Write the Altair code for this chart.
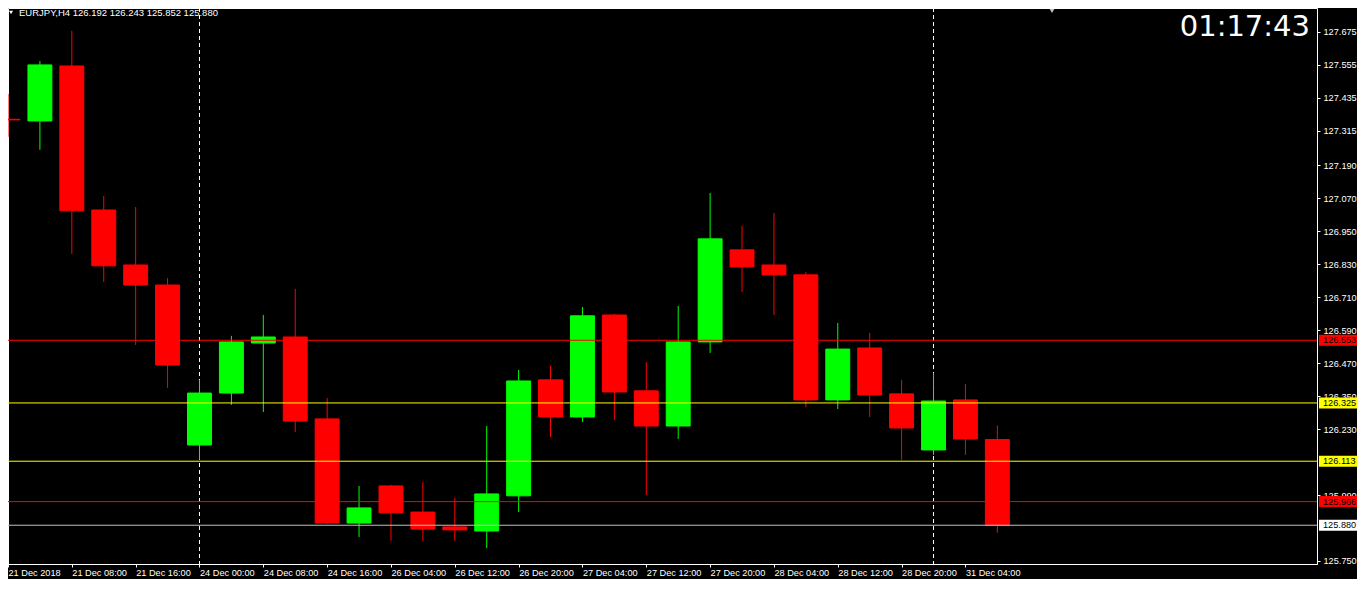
import altair as alt
import pandas as pd

# ---- data (EURJPY, H4) ----
opens = [127.357, 127.351, 127.551, 127.027, 126.827, 126.754, 126.172, 126.361,
         126.543, 126.565, 126.267, 125.888, 126.023, 125.928, 125.874, 125.859,
         125.987, 126.409, 126.274, 126.645, 126.369, 126.241, 126.547, 126.882,
         126.827, 126.791, 126.336, 126.525, 126.358, 126.154, 126.336, 126.192]
highs = [127.449, 127.569, 127.679, 127.078, 127.038, 126.780, 126.409, 126.569,
         126.645, 126.740, 126.343, 126.023, 126.027, 126.037, 125.979, 126.241,
         126.445, 126.460, 126.674, 126.649, 126.474, 126.678, 127.089, 126.969,
         127.016, 126.802, 126.616, 126.580, 126.409, 126.434, 126.394, 126.243]
lows = [127.293, 127.246, 126.867, 126.765, 126.536, 126.380, 126.118, 126.318,
        126.292, 126.219, 125.885, 125.837, 125.823, 125.823, 125.823, 125.797,
        125.928, 126.201, 126.256, 126.263, 125.990, 126.194, 126.507, 126.729,
        126.645, 126.310, 126.303, 126.274, 126.118, 126.136, 126.136, 125.852]
closes = [127.355, 127.555, 127.024, 126.824, 126.754, 126.463, 126.361, 126.547,
          126.565, 126.259, 125.888, 125.943, 125.925, 125.866, 125.863, 125.994,
          126.405, 126.274, 126.642, 126.365, 126.241, 126.547, 126.922, 126.820,
          126.791, 126.336, 126.521, 126.354, 126.234, 126.332, 126.194, 125.880]

time_labels = ["21 Dec 2018", "21 Dec 08:00", "21 Dec 16:00", "24 Dec 00:00",
               "24 Dec 08:00", "24 Dec 16:00", "26 Dec 04:00", "26 Dec 12:00",
               "26 Dec 20:00", "27 Dec 04:00", "27 Dec 12:00", "27 Dec 20:00",
               "28 Dec 04:00", "28 Dec 12:00", "28 Dec 20:00", "31 Dec 04:00"]
label_positions = [1, 3, 5, 7, 9, 11, 13, 15, 17, 19, 21, 23, 25, 27, 29, 31]

# 126.110 and 125.870 are hidden behind the level boxes in the reference
price_ticks = [127.675, 127.555, 127.435, 127.315, 127.190, 127.070, 126.950,
               126.830, 126.710, 126.590, 126.470, 126.350, 126.230,
               125.990, 125.750]

levels = [126.553, 126.325, 126.113, 125.966, 125.880]
level_line_colors = ["#FF0000", "#FFFF00", "#FFFF00", "#FF0000", "#C0C0C0"]
level_box_colors = ["#FF0000", "#FFFF00", "#FFFF00", "#FF0000", "#FFFFFF"]

separators = [7, 30]

header_text = ["EURJPY,H4  126.192 126.243 125.852 125.880"]
clock_text = ["01:17:43"]

W, H = 1309, 556
FONT = "Liberation Sans"
FS = 9.2

df = pd.DataFrame({"i": list(range(1, len(opens) + 1)), "open": opens,
                   "high": highs, "low": lows, "close": closes})
lv = pd.DataFrame({"level": levels, "lc": level_line_colors, "bc": level_box_colors})
sep = pd.DataFrame({"i": separators})

xscale = alt.Scale(domain=[1, 42.016], nice=False, zero=False)
yscale = alt.Scale(domain=[125.739, 127.762], nice=False, zero=False)

label_array = "[" + ",".join("'" + t + "'" for t in time_labels) + "]"
xaxis = alt.Axis(values=label_positions, labelExpr=label_array + "[(datum.value-1)/2]",
                 labelAlign="left", labelBaseline="top", labelPadding=1, tickSize=3,
                 labelOverlap=False, labelFlush=False, labelBound=False, grid=False,
                 title=None, zindex=0)
yaxis = alt.Axis(values=price_ticks, format=".3f", orient="right", tickSize=3,
                 labelPadding=3, grid=False, title=None, labelOverlap=False,
                 labelFlush=False, labelBound=False, zindex=0)

base = alt.Chart(df).transform_calculate(
    col="datum.close >= datum.open ? '#00FF00' : '#FF0000'",
    x1="datum.i - 0.375",
    x2="datum.i + 0.375",
)

seps = alt.Chart(sep).mark_rule(color="white", strokeWidth=1, strokeDash=[4, 3]).encode(
    x=alt.X("i:Q", scale=xscale, axis=xaxis)
)

wicks = base.mark_rule(strokeWidth=1, clip=True).encode(
    x=alt.X("i:Q", scale=xscale, axis=xaxis),
    y=alt.Y("low:Q", scale=yscale, axis=yaxis),
    y2="high:Q",
    color=alt.Color("col:N", scale=None),
)

bodies = base.mark_rect(strokeWidth=1, clip=True).encode(
    x=alt.X("x1:Q", scale=xscale, axis=xaxis),
    x2="x2:Q",
    y=alt.Y("open:Q", scale=yscale, axis=yaxis),
    y2="close:Q",
    color=alt.Color("col:N", scale=None),
    stroke=alt.Stroke("col:N", scale=None),
)

hlines = alt.Chart(lv).mark_rule(strokeWidth=1).encode(
    y=alt.Y("level:Q", scale=yscale, axis=yaxis),
    color=alt.Color("lc:N", scale=None),
)

boxes = alt.Chart(lv).mark_point(
    shape="M-1,-0.29L1,-0.29L1,0.29L-1,0.29Z", filled=True, size=1444, opacity=1
).encode(
    x=alt.value(W + 21),
    y=alt.Y("level:Q", scale=yscale, axis=yaxis),
    fill=alt.Fill("bc:N", scale=None),
)

box_text = alt.Chart(lv).mark_text(
    align="left", baseline="middle", font=FONT, fontSize=FS, color="black"
).encode(
    x=alt.value(W + 6),
    y=alt.Y("level:Q", scale=yscale, axis=yaxis),
    text=alt.Text("level:Q", format=".3f"),
)

header = alt.Chart(pd.DataFrame({"t": header_text})).mark_text(
    align="left", baseline="middle", font=FONT, fontSize=9.5, color="white"
).encode(x=alt.value(11), y=alt.value(5), text="t:N")

hdr_tri = alt.Chart(pd.DataFrame({"t": header_text})).mark_point(
    shape="triangle-down", filled=True, size=16, color="white", opacity=1
).encode(x=alt.value(3), y=alt.value(4.5))

clock = alt.Chart(pd.DataFrame({"t": clock_text})).mark_text(
    align="right", baseline="alphabetic", font="DejaVu Sans", fontSize=29, color="white"
).encode(x=alt.value(1302), y=alt.value(28), text="t:N")

shift_mark = alt.Chart(pd.DataFrame({"t": clock_text})).mark_point(
    shape="triangle-down", filled=True, size=22, color="#C0C0C0", opacity=1
).encode(x=alt.value(1044), y=alt.value(3))

chart = alt.layer(
    seps, wicks, bodies, hlines, boxes, box_text, header, hdr_tri, clock, shift_mark
).properties(
    width=W, height=H,
    autosize=alt.AutoSizeParams(type="none"),
    padding={"left": 0, "top": 0, "right": 40, "bottom": 15},
    background="black",
).configure_view(
    stroke="white", strokeWidth=1
).configure_axis(
    labelFont=FONT, labelFontSize=FS, labelColor="white",
    tickColor="white", domainColor="white", domainWidth=1, tickWidth=1,
)

chart.save("out.html", embed_options={"renderer": "svg", "actions": False})
